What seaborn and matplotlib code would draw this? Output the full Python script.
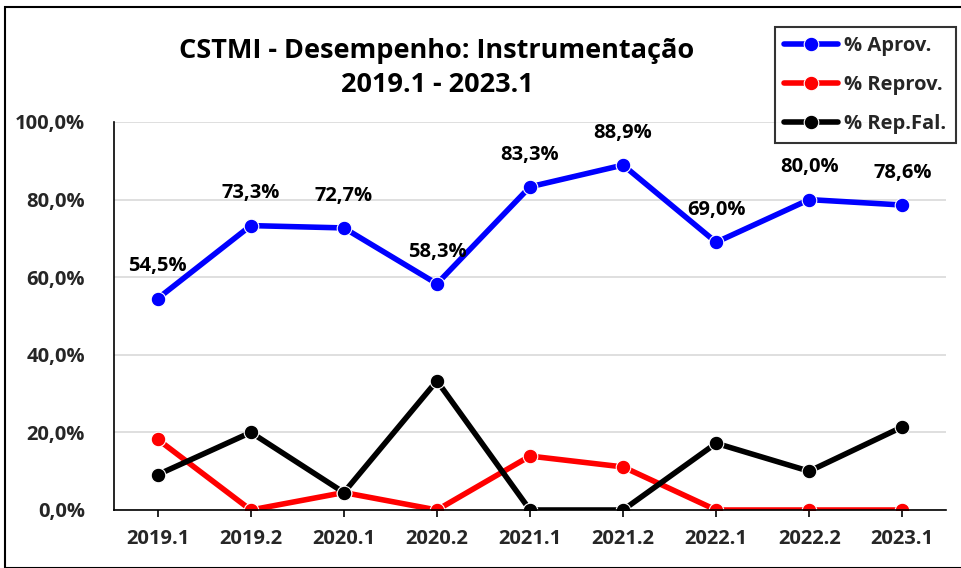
import matplotlib
matplotlib.use("Agg")
import matplotlib.pyplot as plt
import seaborn as sns
import pandas as pd
from matplotlib.patches import Rectangle
from matplotlib.ticker import FuncFormatter, FixedLocator

semesters = ["2019.1", "2019.2", "2020.1", "2020.2", "2021.1", "2021.2", "2022.1", "2022.2", "2023.1"]
aprov = [54.5, 73.3, 72.7, 58.3, 83.3, 88.9, 69.0, 80.0, 78.6]
reprov = [18.2, 0.0, 4.5, 0.0, 13.9, 11.1, 0.0, 0.0, 0.0]
repfal = [9.1, 20.0, 4.5, 33.3, 0.0, 0.0, 17.2, 10.0, 21.4]
series_names = ["% Aprov.", "% Reprov.", "% Rep.Fal."]
colors = ["#0000FF", "#FF0000", "#000000"]
title = "CSTMI - Desempenho: Instrumentação\n2019.1 - 2023.1"

sns.set_theme(style="white")
plt.rcParams['font.family'] = ['Open Sans', 'DejaVu Sans']
plt.rcParams['font.weight'] = 'bold'

df = pd.DataFrame({
    "sem": semesters * 3,
    "val": aprov + reprov + repfal,
    "serie": [series_names[0]] * 9 + [series_names[1]] * 9 + [series_names[2]] * 9,
})
df["pos"] = df["sem"].map({s: i for i, s in enumerate(semesters)})

fig = plt.figure(figsize=(9.62, 5.68), dpi=100)
ax = fig.add_axes([114 / 962, 1 - 510 / 568, 832 / 962, 388 / 568])

sns.lineplot(data=df, x="pos", y="val", hue="serie", hue_order=series_names,
             palette=colors, marker="o", markersize=10.5, linewidth=4,
             markeredgewidth=0.8, sort=False, ax=ax, legend=True)

ax.set_xlim(-0.47, len(semesters) - 0.53)
ax.set_ylim(0, 100)
ax.yaxis.set_major_locator(FixedLocator([0, 20, 40, 60, 80, 100]))
ax.yaxis.set_major_formatter(FuncFormatter(lambda v, p: f"{v:.1f}%".replace(".", ",")))
ax.set_xticks(range(len(semesters)))
ax.set_xticklabels(semesters)
ax.grid(axis="y", color="#D9D9D9", linewidth=1.2)
ax.set_axisbelow(True)
for s in ["top", "right"]:
    ax.spines[s].set_visible(False)
for s in ["left", "bottom"]:
    ax.spines[s].set_color("black")
    ax.spines[s].set_linewidth(1.2)
ax.tick_params(axis="x", bottom=True, length=5, width=1.2, color="black", labelsize=14.5, pad=9)
ax.tick_params(axis="y", left=False, labelsize=14.5, pad=15)
for lab in ax.get_xticklabels() + ax.get_yticklabels():
    lab.set_fontweight("bold")
ax.set_xlabel("")
ax.set_ylabel("")

for i, v in enumerate(aprov):
    ax.annotate(f"{v:.1f}%".replace(".", ","), (i, v), xytext=(0, 16),
                textcoords="offset points", ha="center", va="bottom",
                fontsize=14.5, fontweight="bold", color="black")

fig.text(437 / 962, 1 - 68 / 568, title, ha="center", va="center",
         fontsize=19.5, fontweight="bold", linespacing=1.45, color="black")

leg = ax.legend(loc="upper left", bbox_to_anchor=(775 / 962, 1 - 27 / 568),
                bbox_transform=fig.transFigure, frameon=True, fancybox=False,
                fontsize=14.5, handlelength=2.7, handletextpad=0.3,
                labelspacing=0.95, borderpad=0.45, borderaxespad=0)
leg.get_frame().set_edgecolor("black")
leg.get_frame().set_linewidth(1.5)
for t in leg.get_texts():
    t.set_fontweight("bold")

fig.patches.append(Rectangle((5 / 962, 0), 1.2, 1 - 7 / 568, transform=fig.transFigure,
                             fill=False, edgecolor="black", linewidth=1.5, zorder=10))

fig.savefig("out.png", dpi=100)
